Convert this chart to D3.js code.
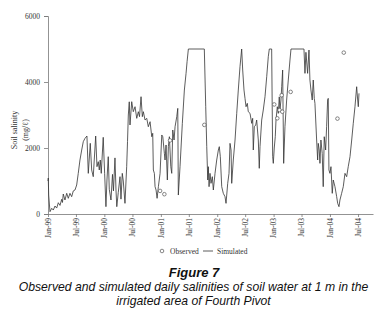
<!DOCTYPE html>
<html><head><meta charset="utf-8">
<script src="https://cdn.jsdelivr.net/npm/d3@7"></script>
<style>body{margin:0;background:#fff;} svg{display:block;}</style>
</head><body>
<svg id="chart" width="380" height="313"></svg>
<script>
// Simulated daily salinity (decimal year, mg/l)
const simYears = [1999.000,1999.005,1999.012,1999.035,1999.066,1999.094,1999.124,1999.154,1999.183,1999.213,
1999.243,1999.257,1999.271,1999.301,1999.332,1999.360,1999.390,1999.420,1999.449,1999.479,
1999.509,1999.537,1999.567,1999.598,1999.626,1999.656,1999.691,1999.715,1999.750,1999.775,
1999.803,1999.846,1999.869,1999.892,1999.910,1999.927,1999.945,1999.980,2000.005,2000.028,
2000.046,2000.069,2000.087,2000.117,2000.144,2000.161,2000.188,2000.206,2000.220,2000.246,
2000.277,2000.294,2000.317,2000.335,2000.365,2000.395,2000.410,2000.424,2000.441,2000.454,
2000.484,2000.512,2000.543,2000.573,2000.601,2000.622,2000.649,2000.672,2000.690,2000.720,
2000.750,2000.778,2000.809,2000.839,2000.856,2000.867,2000.885,2000.897,2000.915,2000.933,
2000.956,2000.986,2001.016,2001.034,2001.062,2001.074,2001.092,2001.115,2001.133,2001.151,
2001.176,2001.193,2001.211,2001.234,2001.252,2001.282,2001.300,2001.310,2001.340,2001.381,
2001.417,2001.447,2001.465,2001.488,2001.771,2001.796,2001.814,2001.832,2001.842,2001.855,
2001.872,2001.890,2001.913,2001.931,2001.961,2001.991,2002.020,2002.037,2002.055,2002.080,
2002.108,2002.138,2002.156,2002.186,2002.209,2002.227,2002.245,2002.257,2002.285,2002.316,
2002.346,2002.374,2002.404,2002.434,2002.452,2002.475,2002.493,2002.511,2002.534,2002.551,
2002.582,2002.612,2002.629,2002.640,2002.658,2002.683,2002.700,2002.729,2002.746,2002.759,
2002.789,2002.817,2002.848,2002.878,2002.906,2002.924,2002.966,2002.984,2002.995,2003.012,
2003.030,2003.043,2003.066,2003.084,2003.101,2003.113,2003.131,2003.144,2003.161,2003.179,
2003.202,2003.232,2003.261,2003.291,2003.309,2003.539,2003.557,2003.574,2003.604,2003.628,
2003.645,2003.663,2003.686,2003.704,2003.722,2003.734,2003.764,2003.782,2003.793,2003.810,
2003.823,2003.840,2003.863,2003.881,2003.899,2003.924,2003.941,2003.959,2003.970,2003.982,
2004.000,2004.018,2004.041,2004.059,2004.089,2004.119,2004.137,2004.160,2004.177,2004.207,
2004.236,2004.266,2004.296,2004.324,2004.355,2004.385,2004.413,2004.443,2004.473,2004.491,
2004.502,2004.514];
const simValues = [1000,1090,575,70,173,120,242,180,342,260,
445,350,606,424,627,475,627,525,700,727,
879,1232,1636,1939,2191,2292,2363,1232,2142,1333,
1131,2363,1434,1585,1333,1636,1232,2323,1232,222,
1030,1737,750,424,1200,700,1700,727,222,650,
1131,450,1232,1000,323,1434,2200,3000,3400,2697,
3403,3100,3251,2899,3100,2950,3554,2949,3100,2848,
2899,2645,2797,2342,2445,1333,1232,828,727,475,
828,1232,2394,2342,1838,1636,2091,1030,2040,2342,
1434,1232,2545,2242,2645,2949,3201,575,1434,2747,
3757,4262,4615,5000,5000,3251,2040,1030,1434,828,
1232,929,1131,727,1232,1636,1939,2040,1737,828,
626,525,323,929,1232,2141,1939,929,1636,2242,
3050,3757,4464,5000,4363,3757,3504,3251,3353,3100,
3050,2747,2899,1939,2645,2697,2848,2242,1384,2040,
2848,3151,3554,4160,4767,5000,5000,1737,1535,2000,
2342,2848,3251,3050,3550,3150,3454,3857,4363,1535,
2645,3454,4060,4666,5000,5000,4262,4900,4262,4969,
4060,3757,3454,4060,3504,3353,2242,1636,2141,1939,
1535,2242,1838,828,2342,1939,2645,3454,3504,1333,
1232,1434,626,1030,828,525,323,222,424,626,
828,1232,1131,1434,1737,2242,2747,3251,3857,3454,
3251,3656];
// Observed salinity
const obsYears = [2000.986,2001.062,2001.163,2001.771,2003.012,2003.066,2003.105,2003.144,2003.154,2003.303,2004.133,2004.245];
const obsValues = [700,600,2230,2700,3320,2900,3150,3600,3100,3700,2890,4890];
const yTicks = [0,2000,4000,6000];
const xTickLabels = ["Jan-99","Jul-99","Jan-00","Jul-00","Jan-01","Jul-01","Jan-02","Jul-02","Jan-03","Jul-03","Jan-04","Jul-04"];

function toDate(y){const yr=Math.floor(y);const s=new Date(yr,0,1),e=new Date(yr+1,0,1);return new Date(+s+(y-yr)*(e-s));}
const parse = d3.timeParse("%b-%y");
const fmt = d3.timeFormat("%b-%y");
const tickDates = xTickLabels.map(parse);

const svg = d3.select("#chart");
svg.append("rect").attr("width",380).attr("height",313).attr("fill","#fff");
const L=48,R=373,T=16,B=214;
const x = d3.scaleTime().domain([new Date(1999,0,1), toDate(2004.762)]).range([L,R]);
const y = d3.scaleLinear().domain([0,6000]).range([B,T]);
const serif = "'Liberation Serif','Times New Roman',serif";

const yAxis = svg.append("g").attr("transform",`translate(${L},0)`)
  .call(d3.axisLeft(y).tickValues(yTicks).tickFormat(d3.format("d")).tickSize(4).tickPadding(4));
yAxis.selectAll("path,line").attr("stroke","#777").attr("stroke-width",0.8);
yAxis.selectAll("text").attr("font-family",serif).attr("font-size",7.5).attr("fill","#333");

const xAxis = svg.append("g").attr("transform",`translate(0,${B})`)
  .call(d3.axisBottom(x).tickValues(tickDates).tickFormat(fmt).tickSize(3).tickSizeOuter(0));
xAxis.selectAll("path,line").attr("stroke","#777").attr("stroke-width",0.8);
xAxis.selectAll("text").attr("font-family",serif).attr("font-size",7.5).attr("fill","#333")
  .attr("transform","rotate(-90)").attr("text-anchor","end").attr("x",-4).attr("y",0).attr("dy","0.32em");

const sim = simYears.map((d,i)=>({d:toDate(d),v:simValues[i]}));
svg.append("path").datum(sim).attr("fill","none").attr("stroke","#333").attr("stroke-width",0.8)
  .attr("d",d3.line().x(p=>x(p.d)).y(p=>y(p.v)));

const obs = obsYears.map((d,i)=>({d:toDate(d),v:obsValues[i]}));
svg.append("g").selectAll("circle").data(obs).join("circle")
  .attr("cx",p=>x(p.d)).attr("cy",p=>y(p.v)).attr("r",1.8)
  .attr("fill","#fff").attr("stroke","#555").attr("stroke-width",0.7);

// y label
svg.append("text").attr("transform","translate(17,130) rotate(-90)").attr("text-anchor","middle")
  .attr("font-family",serif).attr("font-size",8).attr("fill","#333").text("Soil salinity");
svg.append("text").attr("transform","translate(28,130) rotate(-90)").attr("text-anchor","middle")
  .attr("font-family",serif).attr("font-size",8).attr("fill","#333").text("(mg/ℓ)");

// legend
const lg = svg.append("g");
lg.append("circle").attr("cx",162).attr("cy",251).attr("r",1.8).attr("fill","#fff").attr("stroke","#555").attr("stroke-width",0.7);
lg.append("text").attr("x",170).attr("y",253.5).attr("font-family",serif).attr("font-size",7.5).attr("fill","#333").text("Observed");
lg.append("line").attr("x1",203).attr("x2",213).attr("y1",251).attr("y2",251).attr("stroke","#333").attr("stroke-width",0.8);
lg.append("text").attr("x",217).attr("y",253.5).attr("font-family",serif).attr("font-size",7.5).attr("fill","#333").text("Simulated");

// caption
const sans = "'Liberation Sans',Arial,sans-serif";
svg.append("text").attr("x",194).attr("y",276.5).attr("text-anchor","middle").attr("font-family",sans)
  .attr("font-size",13).attr("font-weight","bold").attr("font-style","italic").attr("fill","#111").text("Figure 7");
svg.append("text").attr("x",193.5).attr("y",291).attr("text-anchor","middle").attr("font-family",sans)
  .attr("font-size",12.2).attr("font-style","italic").attr("fill","#111").text("Observed and simulated daily salinities of soil water at 1 m in the");
svg.append("text").attr("x",193.5).attr("y",305).attr("text-anchor","middle").attr("font-family",sans)
  .attr("font-size",12.2).attr("font-style","italic").attr("fill","#111").text("irrigated area of Fourth Pivot");
</script>
</body></html>
